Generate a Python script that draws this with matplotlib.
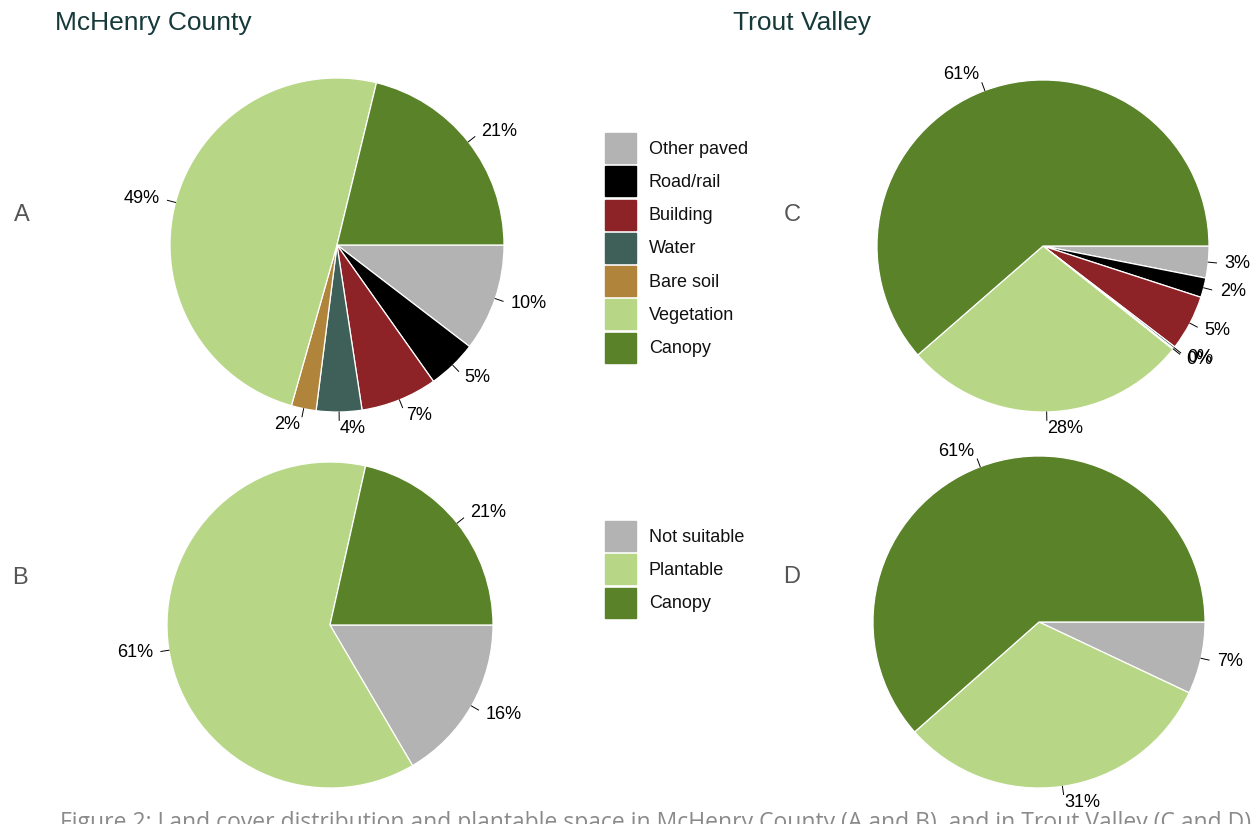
import numpy as np
import matplotlib
matplotlib.use("Agg")
import matplotlib.pyplot as plt
from matplotlib.patches import Rectangle

plt.rcParams['font.family'] = ['Liberation Sans', 'DejaVu Sans']

# land cover classes (slice order, clockwise from 3 o'clock)
cover_names = ['Other paved', 'Road/rail', 'Building', 'Water', 'Bare soil', 'Vegetation', 'Canopy']
cover_colors = ['#b3b3b3', '#000000', '#8d2327', '#3f5f59', '#b0843b', '#b7d787', '#5a8229']
mchenry_cover = [10.4, 4.8, 7.4, 4.4, 2.4, 49.4, 21.2]
trout_cover = [3.1, 1.9, 5.4, 0.2, 0.1, 27.9, 61.4]

# plantable space
plant_names = ['Not suitable', 'Plantable', 'Canopy']
plant_colors = ['#b3b3b3', '#b7d787', '#5a8229']
mchenry_plant = [16.4, 61.4, 21.3]
trout_plant = [7.0, 31.4, 61.4]

W, H = 1258, 824
fig = plt.figure(figsize=(W / 100, H / 100), dpi=100)


def fx(x):
    return x / W


def fy(y):
    return 1 - y / H


def draw_pie(vals, cols, cx, cy, r):
    # axes sized so that radius 1 -> r pixels
    m = 1.35
    ax = fig.add_axes([fx(cx - m * r), fy(cy + m * r), 2 * m * r / W, 2 * m * r / H])
    wedges, _ = ax.pie(vals, colors=cols, startangle=0, counterclock=False, radius=1,
                       wedgeprops=dict(edgecolor='white', linewidth=0.9))
    ax.set_xlim(-m, m)
    ax.set_ylim(-m, m)
    ax.axis('off')
    for w, v in zip(wedges, vals):
        a = np.deg2rad((w.theta1 + w.theta2) / 2)
        c, s = np.cos(a), np.sin(a)
        ax.plot([c, 1.05 * c], [s, 1.05 * s], color='black', lw=0.7, clip_on=False)
        ax.text(1.1 * c, 1.1 * s, '%.0f%%' % v, ha='left' if c >= 0 else 'right',
                va='center', fontsize=13, clip_on=False)


draw_pie(mchenry_cover, cover_colors, 337, 245, 167)
draw_pie(trout_cover, cover_colors, 1043, 246, 166)
draw_pie(mchenry_plant, plant_colors, 330, 625, 163)
draw_pie(trout_plant, plant_colors, 1039, 622, 166)


def draw_legend(names, cols, y0):
    for i, (n, c) in enumerate(zip(names, cols)):
        y = y0 + i * 33.3
        fig.patches.append(Rectangle((fx(605), fy(y + 30)), 31 / W, 30 / H,
                                     transform=fig.transFigure, color=c))
        fig.text(fx(649), fy(y + 16), n, ha='left', va='center', fontsize=13, color='#111111')


draw_legend(cover_names, cover_colors, 133)
draw_legend(plant_names, plant_colors, 521)

# titles and panel letters
fig.text(fx(55), fy(23), 'McHenry County', fontsize=19, color='#16393a', va='center')
fig.text(fx(733), fy(23), 'Trout Valley', fontsize=19, color='#16393a', va='center')
for lab, x, y in [('A', 22, 215), ('B', 20, 578), ('C', 792, 215), ('D', 792, 577)]:
    fig.text(fx(x), fy(y), lab, fontsize=17, color='#555555', ha='center', va='center')

fig.text(fx(60), fy(811), 'Figure 2: Land cover distribution and plantable space in McHenry County '
         '(A and B), and in Trout Valley (C and D)', fontsize=16.5, color='#8a8a8a',
         va='top', family=['Open Sans', 'DejaVu Sans'])

fig.savefig('out.png', dpi=100)
